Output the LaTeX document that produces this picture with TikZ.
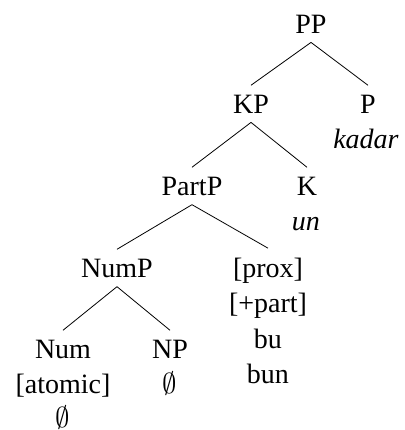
\documentclass[tikz,border=0pt]{standalone}
\usepackage{fontspec}
\setmainfont{Liberation Serif}
\usepackage{tikz}

\begin{document}
\begin{tikzpicture}[x=0.5pt,y=-0.5pt,
  font=\fontsize{14}{17}\selectfont,
  cat/.style={anchor=base,inner xsep=2pt,inner ysep=4.5pt},
  word/.style={anchor=base,inner sep=2pt},
  branch/.style={line width=0.4pt}]
\useasboundingbox (0,0) rectangle (404,430);
\node[cat] (pp) at (311,33) {PP};
\node[cat] (kp) at (251,113) {KP};
\node[cat] (p) at (368,113) {P};
\node[word] (kadar) at (366,148) {\textit{kadar}};
\node[cat] (partp) at (192,195) {PartP};
\node[cat] (k) at (307,195) {K};
\node[word] (un) at (306,230) {\textit{un}};
\node[cat] (nump) at (117,277) {NumP};
\node[cat] (prox) at (268,277) {[prox]};
\node[word] (plus) at (268,312.5) {[+part]};
\node[word] (bu) at (268,348) {bu};
\node[word] (bun) at (268,383.5) {bun};
\node[cat] (num) at (63,358) {Num};
\node[word] (atomic) at (63,393.5) {[atomic]};
\node[word] (numnull) at (63,427) {$\emptyset$};
\node[cat] (np) at (170,358) {NP};
\node[word] (npnull) at (170,393.5) {$\emptyset$};
\draw[branch] (pp.south) -- (kp.north);
\draw[branch] (pp.south) -- (p.north);
\draw[branch] (kp.south) -- (partp.north);
\draw[branch] (kp.south) -- (k.north);
\draw[branch] (partp.south) -- (nump.north);
\draw[branch] (partp.south) -- (prox.north);
\draw[branch] (nump.south) -- (num.north);
\draw[branch] (nump.south) -- (np.north);
\end{tikzpicture}
\end{document}
